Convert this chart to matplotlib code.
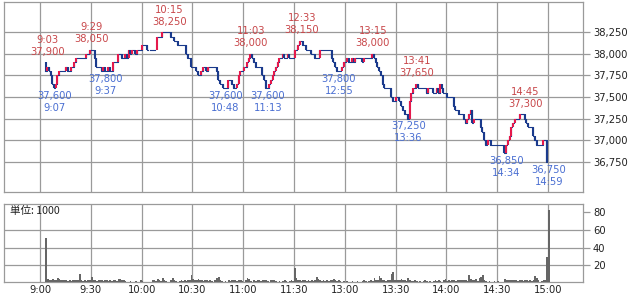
import numpy as np
import matplotlib.pyplot as plt
from matplotlib.ticker import FuncFormatter

# per-minute closing prices, slot 0 = 9:00, slot 150 = 11:30 / 12:30, slot 300 = 15:00
first_open = 37900
close = [
    None, None, None, 37800, 37850, 37800, 37750, 37650, 37600, 37650,
    37750, 37800, 37800, 37800, 37800, 37850, 37800, 37800, 37850, 37850,
    37900, 37950, 37950, 37950, 37950, 37950, 37950, 38000, 38000, 38050,
    38050, 38050, 37950, 37850, 37850, 37850, 37800, 37850, 37800, 37800,
    37850, 37800, 37800, 37900, 37900, 37900, 38000, 38000, 37950, 37950,
    38000, 37950, 38050, 38000, 38050, 38050, 38000, 38050, 38050, 38050,
    38100, 38100, 38100, 38050, None, 38050, None, 38050, None, 38200,
    38200, 38200, 38250, 38250, 38250, 38250, 38250, 38200, 38200, 38150,
    38150, 38100, 38100, 38100, 38100, 38100, 38000, 37950, 37950, 37850,
    37850, 37850, 37800, 37750, 37750, 37800, 37850, 37850, 37800, 37850,
    37850, 37850, 37850, 37850, 37800, 37700, 37650, 37650, 37600, 37600,
    37600, 37700, 37700, 37650, 37600, 37600, 37650, 37750, 37800, 37800,
    37850, 37850, 37900, 37950, 38000, 37950, 37900, 37850, 37850, 37850,
    37850, 37750, 37700, 37600, 37600, 37650, 37700, 37750, 37800, 37850,
    37900, 37950, 37950, 38000, 37950, 37950, 38000, 37950, 37950, 37950,
    38050, 38050, 38100, 38150, 38150, 38100, 38100, 38050, 38050, 38050,
    38000, 38000, 37950, 37950, 37950, 38050, 38050, 38050, 38050, 38050,
    38050, 38050, 37950, 37900, 37850, 37800, 37800, 37800, 37850, 37900,
    37900, 37950, 37900, 37900, 37950, 37900, 37950, 37950, 37950, 37950,
    37900, 37950, 37950, 37950, 37950, 37950, 38000, 37950, 37900, 37850,
    37800, 37750, 37650, 37600, 37600, 37600, 37600, 37500, 37450, 37450,
    37500, 37500, 37450, 37400, 37350, 37300, 37300, 37250, 37450, 37550,
    37600, 37600, 37650, 37600, 37600, 37600, 37600, 37600, 37550, 37600,
    37600, 37600, 37550, 37550, 37600, 37550, 37650, 37600, 37550, 37550,
    37500, 37500, 37500, 37500, 37400, 37350, 37350, 37300, 37300, 37300,
    37250, 37200, 37250, 37300, 37350, 37200, 37250, 37250, 37250, 37250,
    37150, 37100, 37000, 36950, 37000, 37000, 36950, 36950, 36950, 36950,
    36950, 36950, 36950, 36950, 36850, 36950, 37000, 37050, 37150, 37200,
    37250, 37250, 37250, 37300, 37300, 37300, 37250, 37200, 37150, 37150,
    37150, 37050, 37000, 36950, 36950, 36950, 36950, 37000, 37000, 36750,
]

# volume per minute, in thousands
volume = [
    0, 0, 0, 51, 5, 4, 4, 5, 3, 4,
    6, 5, 3, 3, 4, 3, 2, 3, 2, 3,
    4, 3, 4, 10, 4, 2, 3, 2, 3, 4,
    7, 4, 3, 2, 3, 4, 3, 2, 4, 3,
    2, 3, 2, 3, 4, 2, 5, 5, 4, 3,
    2, 1, 0, 2, 1, 0, 2, 1, 0, 3,
    2, 1, 0, 1, 0, 1, 3, 4, 2, 5,
    3, 2, 6, 3, 2, 0, 1, 4, 6, 3,
    2, 0, 2, 3, 2, 3, 2, 4, 3, 9,
    5, 4, 3, 5, 4, 3, 2, 3, 4, 2,
    3, 2, 1, 3, 6, 7, 3, 2, 1, 2,
    1, 3, 2, 4, 3, 3, 2, 4, 3, 2,
    1, 3, 6, 5, 2, 1, 3, 2, 4, 3,
    2, 4, 4, 3, 2, 1, 3, 4, 3, 2,
    1, 2, 1, 2, 3, 2, 1, 2, 3, 2,
    17, 6, 4, 3, 2, 4, 3, 2, 3, 2,
    3, 2, 4, 7, 5, 3, 2, 3, 2, 3,
    2, 3, 4, 5, 3, 2, 3, 2, 1, 2,
    1, 2, 1, 1, 2, 1, 0, 2, 1, 1,
    2, 3, 2, 1, 2, 3, 2, 6, 4, 3,
    8, 6, 4, 3, 2, 3, 4, 10, 13, 4,
    3, 4, 3, 5, 4, 3, 2, 6, 3, 2,
    2, 3, 2, 1, 2, 1, 2, 3, 2, 1,
    2, 1, 2, 3, 2, 3, 2, 1, 3, 5,
    2, 3, 2, 4, 3, 2, 4, 3, 3, 4,
    3, 4, 2, 9, 5, 4, 3, 5, 2, 6,
    7, 9, 3, 2, 1, 2, 1, 0, 2, 1,
    2, 1, 0, 1, 5, 4, 3, 4, 3, 3,
    4, 3, 2, 3, 3, 2, 3, 4, 2, 3,
    2, 3, 8, 6, 3, 1, 2, 3, 3, 30,
    83,
]

tick_pos = [0, 30, 60, 90, 120, 150, 180, 210, 240, 270, 300]
tick_labels = ['9:00', '9:30', '10:00', '10:30', '11:00', '11:30',
               '13:00', '13:30', '14:00', '14:30', '15:00']
price_ticks = [36750, 37000, 37250, 37500, 37750, 38000, 38250]
vol_ticks = [20, 40, 60, 80]

high_times = ['9:03', '9:29', '10:15', '11:03', '12:33', '13:15', '13:41', '14:45']
high_vals = [37900, 38050, 38250, 38000, 38150, 38000, 37650, 37300]
low_times = ['9:07', '9:37', '10:48', '11:13', '12:55', '13:36', '14:34', '14:59']
low_vals = [37600, 37800, 37600, 37600, 37800, 37250, 36850, 36750]

navy = '#1a3a8c'
red = '#e5194c'
grid_c = '#9a9a9a'
hi_c = '#c8474a'
lo_c = '#4a6fd2'


def slot(t):
    h, m = map(int, t.split(':'))
    mins = h * 60 + m
    return mins - 540 if mins <= 690 else mins - 600


plt.rcParams['font.family'] = ['DejaVu Sans']
plt.rcParams['font.size'] = 7.2

fig = plt.figure(figsize=(6.36, 2.97), dpi=100)
ax = fig.add_axes([4 / 636, 1 - 192 / 297, 579 / 636, 190 / 297])
axv = fig.add_axes([4 / 636, 1 - 282 / 297, 579 / 636, 78 / 297])

c = np.array([np.nan if v is None else v for v in close], dtype=float)
xs = np.arange(len(c))
ax.step(xs + 0.5, c, where='mid', color=navy, lw=0.8, zorder=3)
prev = first_open
for xi, v in zip(xs, c):
    if np.isnan(v):
        continue
    if v != prev:
        ax.vlines(xi + 0.3, prev, v, color=red if v > prev else navy, lw=1.5, zorder=4)
    prev = v

for t, v in zip(high_times, high_vals):
    ax.annotate(f'{t}\n{v:,}', xy=(slot(t) + 1.5, v), xytext=(0, 4),
                textcoords='offset points', ha='center', va='bottom',
                color=hi_c, linespacing=1.25, fontsize=7.2, zorder=5)
for t, v in zip(low_times, low_vals):
    ax.annotate(f'{v:,}\n{t}', xy=(slot(t) + 1.5, v), xytext=(0, -2),
                textcoords='offset points', ha='center', va='top',
                color=lo_c, linespacing=1.25, fontsize=7.2, zorder=5)

axv.bar(np.arange(len(volume)), volume, width=1.0, align='edge',
        color='#666666', linewidth=0, zorder=3)
for y in [20, 40, 60]:
    axv.axhline(y, color=grid_c, lw=0.9, zorder=1)
axv.text(6 / 579, 1 - 7 / 78, '単位: 1000', transform=axv.transAxes,
         ha='left', va='center', fontsize=7.6,
         family=['Noto Sans CJK JP', 'DejaVu Sans'], color='#222222')

xlim = (-21.3, 320.7)
for a in (ax, axv):
    a.set_xlim(*xlim)
    a.set_xticks(tick_pos)
    for xp in tick_pos:
        a.axvline(xp, color=grid_c, lw=0.9, zorder=1)
    for s in a.spines.values():
        s.set_color(grid_c)
        s.set_linewidth(0.9)
    a.yaxis.tick_right()
    a.tick_params(axis='y', length=5, width=0.9, color=grid_c, pad=2.2,
                  labelsize=7.2, labelcolor='#222222')

ax.set_ylim(36400, 38600)
ax.set_yticks(price_ticks)
ax.yaxis.set_major_formatter(FuncFormatter(lambda v, p: f'{int(v):,}'))
for y in price_ticks:
    ax.axhline(y, color=grid_c, lw=0.9, zorder=1)
ax.tick_params(axis='x', length=0, labelbottom=False)

axv.set_ylim(1.3, 89.3)
axv.set_yticks(vol_ticks)
axv.set_xticklabels(tick_labels)
axv.tick_params(axis='x', length=0, pad=2.5, labelsize=7.2, labelcolor='#222222')

fig.savefig('out.png', dpi=100)
